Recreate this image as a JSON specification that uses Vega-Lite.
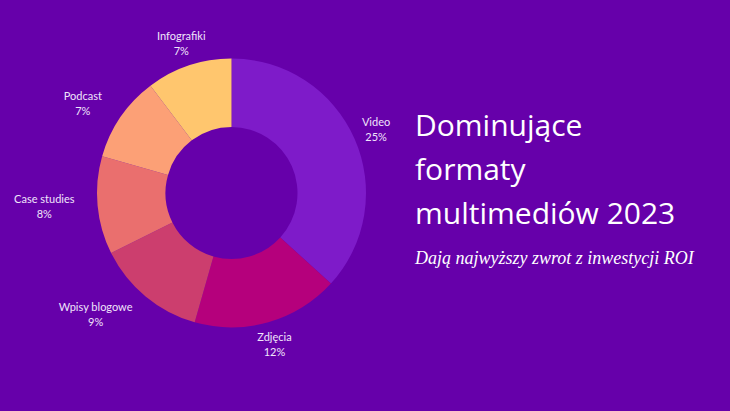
{
  "$schema": "https://vega.github.io/schema/vega-lite/v6.json",
  "width": 463,
  "height": 386,
  "autosize": {"type": "none"},
  "padding": {"left": 0, "top": 0, "right": 267, "bottom": 25},
  "background": "#6600aa",
  "config": {"view": {"stroke": null}},
  "title": {
    "text": ["Dominujące", "formaty", "multimediów 2023"],
    "subtitle": "Dają najwyższy zwrot z inwestycji ROI",
    "orient": "bottom",
    "anchor": "start",
    "frame": "group",
    "offset": -274,
    "dx": 415,
    "font": "Open Sans",
    "fontSize": 30,
    "fontWeight": 400,
    "color": "#ffffff",
    "lineHeight": 44,
    "subtitleFont": "Liberation Serif",
    "subtitleFontStyle": "italic",
    "subtitleFontSize": 18,
    "subtitleColor": "#ffffff",
    "subtitlePadding": 20
  },
  "data": {
    "values": [
      {"format": "Video", "share": 25, "label": "Video\n25%"},
      {"format": "Zdjęcia", "share": 12, "label": "Zdjęcia\n12%"},
      {"format": "Wpisy blogowe", "share": 9, "label": "Wpisy blogowe\n9%"},
      {"format": "Case studies", "share": 8, "label": "Case studies\n8%"},
      {"format": "Podcast", "share": 7, "label": "Podcast\n7%"},
      {"format": "Infografiki", "share": 7, "label": "Infografiki\n7%"}
    ]
  },
  "encoding": {
    "theta": {"field": "share", "type": "quantitative", "stack": true},
    "order": {"field": "share", "type": "quantitative", "sort": "descending"}
  },
  "layer": [
    {
      "mark": {"type": "arc", "outerRadius": 134.5, "innerRadius": 66},
      "encoding": {
        "color": {
          "field": "format",
          "type": "nominal",
          "scale": {
            "domain": ["Video", "Zdjęcia", "Wpisy blogowe", "Case studies", "Podcast", "Infografiki"],
            "range": ["#7e1bc9", "#b5007c", "#cc3e6e", "#ea6f6e", "#fca076", "#ffc66e"]
          },
          "legend": null
        }
      }
    },
    {
      "mark": {
        "type": "text",
        "font": "Lato",
        "fontSize": 11,
        "lineHeight": 15,
        "lineBreak": "\n",
        "align": "center",
        "baseline": "middle",
        "fill": "#f0e4fb",
        "radius": {"expr": "datum.format === 'Video' ? 158 : datum.format === 'Zdjęcia' ? 157 : datum.format === 'Wpisy blogowe' ? 172 : datum.format === 'Case studies' ? 188 : datum.format === 'Podcast' ? 173 : 158"},
        "dx": {"expr": "datum.format === 'Wpisy blogowe' ? -26 : datum.format === 'Podcast' ? -6 : 0"},
        "dy": {"expr": "datum.format === 'Wpisy blogowe' ? -17 : datum.format === 'Case studies' ? -10 : datum.format === 'Podcast' ? 2 : -6"}
      },
      "encoding": {
        "text": {"field": "label", "type": "nominal"}
      }
    }
  ]
}
